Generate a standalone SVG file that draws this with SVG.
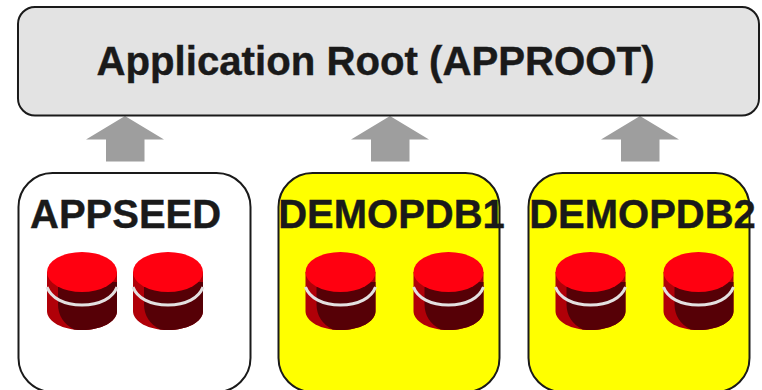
<svg xmlns="http://www.w3.org/2000/svg" width="762" height="390" viewBox="0 0 762 390">
<style>
.lbl{font-family:"Liberation Sans",Arial,sans-serif;font-weight:bold;fill:#1a1a1a;stroke:#1a1a1a;stroke-width:.4px;font-size:40px;text-anchor:middle}
.box{stroke:#1a1a1a;stroke-width:2}
.arrow{fill:#9e9e9e}
</style>
<defs>
<g id="db">
<path d="M-35 0V39C-35 50 -19 58 0 58S35 50 35 39V0Z" fill="#b00008"/>
<path d="M-24 10H35V39C35 50 19 58 0 58C-2 58 -5 58 -8 57.500C-18 52 -24 44 -24 32Z" fill="#560006"/>
<path d="M-35 15C-31 26 -18 33 0 33S31 26 35 15" fill="none" stroke="#e4e0e0" stroke-width="3"/>
<ellipse cx="0" cy="0" rx="35" ry="20" fill="#ff0010"/>
</g>
</defs>
<g id="connectors">
<polygon class="arrow" points="125,116 164,139.500 144.500,139.500 144.500,161.500 106,161.500 106,139.500 86,139.500"/>
<polygon class="arrow" points="390,116 429,139.500 409.500,139.500 409.500,161.500 371,161.500 371,139.500 351,139.500"/>
<polygon class="arrow" points="640,116 679,139.500 659.500,139.500 659.500,161.500 621,161.500 621,139.500 601,139.500"/>
</g>
<g id="approot">
<rect class="box" x="18" y="7" width="741" height="108.500" rx="17" fill="#e3e3e3"/>
<text class="lbl" x="375.500" y="75" style="font-size:40.200px">Application Root (APPROOT)</text>
</g>
<g id="appseed">
<rect class="box" x="18.500" y="173" width="232" height="219" rx="34" fill="#fff"/>
<text class="lbl" x="125.600" y="228">APPSEED</text>
<use href="#db" x="82" y="272"/>
<use href="#db" x="168" y="272"/>
</g>
<g id="demopdb1">
<rect class="box" x="278.500" y="173" width="221" height="219" rx="34" fill="#ff0"/>
<text class="lbl" x="391.500" y="228">DEMOPDB1</text>
<use href="#db" x="340.500" y="272"/>
<use href="#db" x="448.500" y="272"/>
</g>
<g id="demopdb2">
<rect class="box" x="528.500" y="173" width="221" height="219" rx="34" fill="#ff0"/>
<text class="lbl" x="642.500" y="228">DEMOPDB2</text>
<use href="#db" x="590.500" y="272"/>
<use href="#db" x="698.500" y="272"/>
</g>
</svg>
